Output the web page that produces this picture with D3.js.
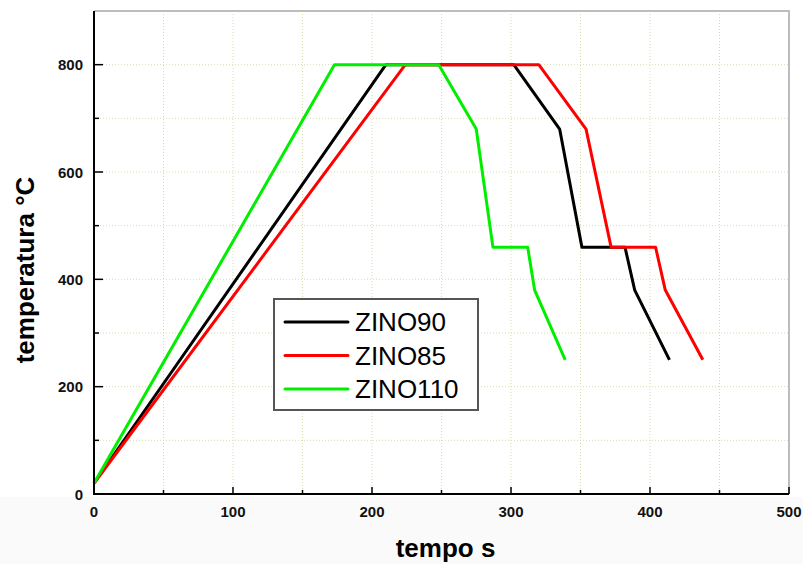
<!DOCTYPE html>
<html>
<head>
<meta charset="utf-8">
<script src="https://cdn.jsdelivr.net/npm/d3@7"></script>
<style>
  html, body { margin: 0; padding: 0; background: #ffffff; }
  svg { display: block; font-family: Arial, "Liberation Sans", sans-serif; }
</style>
</head>
<body>
<svg id="chart" width="803" height="564"></svg>
<script>
// Heating / cooling cycles (time in s, temperature in °C)
const seriesNames = ["ZINO90", "ZINO85", "ZINO110"];
const seriesColors = ["#000000", "#ff0000", "#00ee00"];

const zino90Time = [0, 210, 302, 335, 351, 382, 389, 414];
const zino90Temp = [20, 800, 800, 680, 460, 460, 380, 250];

const zino85Time = [0, 224, 320, 354, 372, 404, 411, 438];
const zino85Temp = [20, 800, 800, 680, 460, 460, 380, 250];

const zino110Time = [0, 173, 248, 275, 287, 312, 317, 339];
const zino110Temp = [20, 800, 800, 680, 460, 460, 380, 250];

const xTickLabels = [0, 100, 200, 300, 400, 500];
const yTickLabels = [0, 200, 400, 600, 800];

const svg = d3.select("#chart");
const W = 803, H = 564;
const m = { left: 94, top: 11, right: 789, bottom: 494 };

const x = d3.scaleLinear().domain([0, 500]).range([m.left, m.right]);
const y = d3.scaleLinear().domain([0, 900]).range([m.bottom, m.top]);

// off-white strip under the plot
svg.append("rect").attr("x", 0).attr("y", m.bottom + 3).attr("width", W).attr("height", H - m.bottom - 3)
  .attr("fill", "#fafafa");

// dotted grid
const grid = svg.append("g");
grid.selectAll("line.gx").data(d3.range(50, 500, 50)).join("line")
  .attr("x1", d => x(d)).attr("x2", d => x(d))
  .attr("y1", m.top).attr("y2", m.bottom)
  .attr("stroke", "#dcdcaa").attr("stroke-width", 1).attr("stroke-dasharray", "1,2");
grid.selectAll("line.gy").data(d3.range(100, 900, 100)).join("line")
  .attr("x1", m.left).attr("x2", m.right)
  .attr("y1", d => y(d)).attr("y2", d => y(d))
  .attr("stroke", "#dcdcaa").attr("stroke-width", 1).attr("stroke-dasharray", "1,2");

// frame top and right in grey
svg.append("path")
  .attr("d", `M${m.left},${m.top}H${m.right}V${m.bottom}`)
  .attr("fill", "none").attr("stroke", "#bdbdbd").attr("stroke-width", 2);

// curves
const series = [
  { t: zino90Time, v: zino90Temp },
  { t: zino85Time, v: zino85Temp },
  { t: zino110Time, v: zino110Temp }
];
const line = d3.line().x(d => x(d[0])).y(d => y(d[1]));
series.forEach((s, i) => {
  svg.append("path")
    .datum(s.t.map((t, k) => [t, s.v[k]]))
    .attr("d", line)
    .attr("fill", "none")
    .attr("stroke", seriesColors[i])
    .attr("stroke-width", 3)
    .attr("stroke-linejoin", "round");
});

// axes with inward ticks
const xAxis = svg.append("g").attr("transform", `translate(0,${m.bottom})`);
xAxis.append("line").attr("x1", m.left).attr("x2", m.right).attr("stroke", "#000").attr("stroke-width", 2);
xAxis.selectAll("line.maj").data(xTickLabels).join("line")
  .attr("x1", d => x(d)).attr("x2", d => x(d)).attr("y1", 0).attr("y2", -7)
  .attr("stroke", "#000").attr("stroke-width", 1.5);
xAxis.selectAll("line.min").data(d3.range(50, 500, 100)).join("line")
  .attr("x1", d => x(d)).attr("x2", d => x(d)).attr("y1", 0).attr("y2", -4)
  .attr("stroke", "#000").attr("stroke-width", 1.5);
xAxis.selectAll("text").data(xTickLabels).join("text")
  .attr("x", d => x(d)).attr("y", 23)
  .attr("text-anchor", "middle").attr("font-size", 15).attr("font-weight", "bold")
  .attr("fill", "#111").text(d => d);

const yAxis = svg.append("g").attr("transform", `translate(${m.left},0)`);
yAxis.append("line").attr("y1", m.top).attr("y2", m.bottom + 1).attr("stroke", "#000").attr("stroke-width", 2);
yAxis.selectAll("line.maj").data(yTickLabels).join("line")
  .attr("y1", d => y(d)).attr("y2", d => y(d)).attr("x1", 0).attr("x2", 9)
  .attr("stroke", "#000").attr("stroke-width", 1.5);
yAxis.selectAll("line.min").data(d3.range(100, 900, 200)).join("line")
  .attr("y1", d => y(d)).attr("y2", d => y(d)).attr("x1", 0).attr("x2", 5)
  .attr("stroke", "#000").attr("stroke-width", 1.5);
yAxis.selectAll("text").data(yTickLabels).join("text")
  .attr("x", -11).attr("y", d => y(d) + 5.5)
  .attr("text-anchor", "end").attr("font-size", 15).attr("font-weight", "bold")
  .attr("fill", "#111").text(d => d);

// axis titles
svg.append("text").attr("x", (m.left + m.right) / 2 + 4).attr("y", 557)
  .attr("text-anchor", "middle").attr("font-size", 26).attr("font-weight", "bold")
  .attr("fill", "#000").text("tempo s");
svg.append("text").attr("transform", `translate(34,270) rotate(-90)`)
  .attr("text-anchor", "middle").attr("font-size", 26).attr("font-weight", "bold")
  .attr("fill", "#000").text("temperatura °C");

// legend
const lg = svg.append("g");
lg.append("rect").attr("x", 274).attr("y", 299).attr("width", 204).attr("height", 111)
  .attr("fill", "#fff").attr("stroke", "#555").attr("stroke-width", 2);
seriesNames.forEach((name, i) => {
  const ly = 322 + i * 33.5;
  lg.append("line").attr("x1", 285).attr("x2", 348).attr("y1", ly).attr("y2", ly)
    .attr("stroke", seriesColors[i]).attr("stroke-width", 3).attr("stroke-linecap", "round");
  lg.append("text").attr("x", 355).attr("y", ly + 9)
    .attr("font-size", 26).attr("fill", "#000").text(name);
});
</script>
</body>
</html>
